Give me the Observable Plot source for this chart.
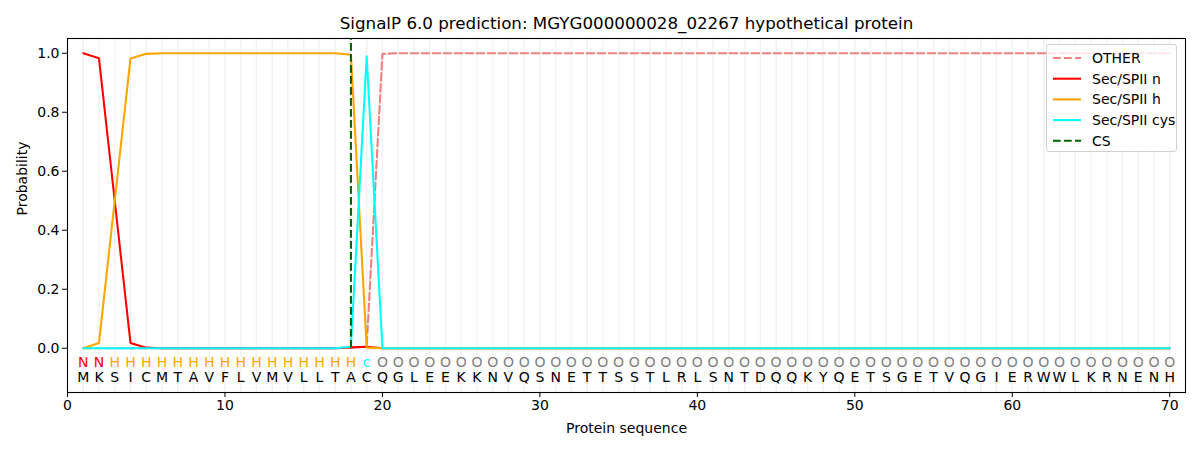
<!DOCTYPE html>
<html>
<head>
<meta charset="utf-8">
<script src="https://cdn.jsdelivr.net/npm/d3@7"></script>
<script src="https://cdn.jsdelivr.net/npm/@observablehq/plot@0.6"></script>
<style>
  body { margin: 0; background: #fff; font-family: "DejaVu Sans", sans-serif; }
  #wrap { position: relative; width: 1200px; height: 450px; }
  #legend { position: absolute; left: 1046px; top: 44px; width: 131px; height: 108px;
    background: rgba(255,255,255,0.8); border: 1px solid #d0d0d0; border-radius: 3px; box-sizing: border-box; }
</style>
</head>
<body>
<div id="wrap"><div id="legend"></div></div>
<script>
const title = "SignalP 6.0 prediction: MGYG000000028_02267 hypothetical protein";
const sequence = "MKSICMTAVFLVMVLLTACQGLEEKKNVQSNETTSSTLRLSNTDQQKYQETSGETVQGIERWWLKRNENH".split("");
const regionLabels = "NNHHHHHHHHHHHHHHHHcOOOOOOOOOOOOOOOOOOOOOOOOOOOOOOOOOOOOOOOOOOOOOOOOOOO".split("");
const xTicks = [0, 10, 20, 30, 40, 50, 60, 70];
const yTicks = [0, 0.2, 0.4, 0.6, 0.8, 1.0];
const csPosition = 18;

const other = [0,0,0,0,0,0,0,0,0,0, 0,0,0,0,0,0,0,0.002,0.005,0.998,
  1,1,1,1,1,1,1,1,1,1, 1,1,1,1,1,1,1,1,1,1, 1,1,1,1,1,1,1,1,1,1,
  1,1,1,1,1,1,1,1,1,1, 1,1,1,1,1,1,1,1,1,1];
const secN = [1.0,0.983,0.5,0.018,0.002,0,0,0,0,0, 0,0,0,0,0,0,0,0.003,0.005,0,
  0,0,0,0,0,0,0,0,0,0, 0,0,0,0,0,0,0,0,0,0, 0,0,0,0,0,0,0,0,0,0,
  0,0,0,0,0,0,0,0,0,0, 0,0,0,0,0,0,0,0,0,0];
const secH = [0,0.018,0.5,0.982,0.998,1,1,1,1,1, 1,1,1,1,1,1,1,0.995,0.002,0,
  0,0,0,0,0,0,0,0,0,0, 0,0,0,0,0,0,0,0,0,0, 0,0,0,0,0,0,0,0,0,0,
  0,0,0,0,0,0,0,0,0,0, 0,0,0,0,0,0,0,0,0,0];
const secCys = [0,0,0,0,0,0,0,0,0,0, 0,0,0,0,0,0,0,0.005,0.99,0,
  0,0,0,0,0,0,0,0,0,0, 0,0,0,0,0,0,0,0,0,0, 0,0,0,0,0,0,0,0,0,0,
  0,0,0,0,0,0,0,0,0,0, 0,0,0,0,0,0,0,0,0,0];

const seriesNames = ["OTHER", "Sec/SPII n", "Sec/SPII h", "Sec/SPII cys", "CS"];
const seriesColors = ["#f08080", "#ff0000", "#ffa500", "#00ffff", "#006400"];
const seriesDash = [true, false, false, false, true];
const labelColors = {N: "#ff0000", H: "#ffa500", c: "#00ffff", O: "#808080"};

const positions = sequence.map((_, i) => i + 1);
const rows = positions.map((p, i) => ({pos: p, aa: sequence[i], lab: regionLabels[i],
  other: other[i], n: secN[i], h: secH[i], cys: secCys[i]}));

const font = "DejaVu Sans, sans-serif";
const lw = 2.08;
const dash = "7.7,3.3";

const chart = Plot.plot({
  width: 1200, height: 450,
  marginTop: 38, marginBottom: 58, marginLeft: 67, marginRight: 15,
  style: {fontFamily: font, background: "white", color: "black"},
  x: {domain: [0, 71]},
  y: {domain: [-0.15, 1.05]},
  marks: [
    Plot.ruleX(positions, {x: d => d, stroke: "#f2f2f2", strokeWidth: 1.5}),
    Plot.line(rows, {x: "pos", y: "other", stroke: seriesColors[0], strokeWidth: lw, strokeDasharray: dash}),
    Plot.line(rows, {x: "pos", y: "n", stroke: seriesColors[1], strokeWidth: lw}),
    Plot.line(rows, {x: "pos", y: "h", stroke: seriesColors[2], strokeWidth: lw}),
    Plot.line(rows, {x: "pos", y: "cys", stroke: seriesColors[3], strokeWidth: lw}),
    Plot.ruleX([csPosition], {x: d => d, y1: 0, y2: 1.05, stroke: seriesColors[4], strokeWidth: lw, strokeDasharray: dash}),
    Plot.text(rows, {x: "pos", y: -0.047, text: "lab", fill: d => labelColors[d.lab], fontSize: 14}),
    Plot.text(rows, {x: "pos", y: -0.098, text: "aa", fill: "black", fontSize: 14}),
    Plot.frame({stroke: "black", strokeWidth: 1.1}),
    Plot.axisX({ticks: xTicks, tickSize: 5, tickPadding: 3, fontSize: 14, label: null, tickFormat: d3.format("d")}),
    Plot.axisY({ticks: yTicks, tickSize: 5, tickPadding: 3, fontSize: 14, label: null, tickFormat: d3.format(".1f")}),
    Plot.text([title], {frameAnchor: "top", lineAnchor: "middle", dy: -15, fontSize: 16.7, fill: "black"}),
    Plot.text(["Protein sequence"], {frameAnchor: "bottom", lineAnchor: "middle", dy: 36, fontSize: 14, fill: "black"}),
    Plot.text(["Probability"], {frameAnchor: "left", lineAnchor: "middle", dx: -45, rotate: -90, fontSize: 14, fill: "black"})
  ]
});
document.getElementById("wrap").prepend(chart);

// legend
const leg = d3.select("#legend").append("svg").attr("width", 131).attr("height", 108);
seriesNames.forEach((name, i) => {
  const y = 13 + i * 20.7;
  leg.append("line").attr("x1", 6).attr("x2", 34).attr("y1", y).attr("y2", y)
    .attr("stroke", seriesColors[i]).attr("stroke-width", lw)
    .attr("stroke-dasharray", seriesDash[i] ? dash : null);
  leg.append("text").attr("x", 45).attr("y", y).attr("dy", "0.35em")
    .attr("font-family", font).attr("font-size", 14).attr("fill", "black").text(name);
});
</script>
</body>
</html>
